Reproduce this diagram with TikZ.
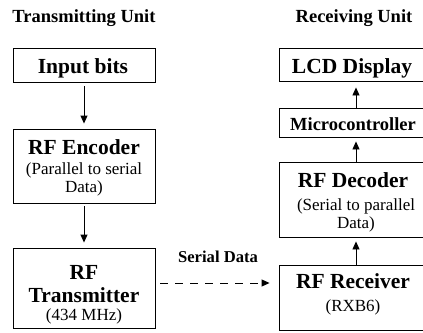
\documentclass[tikz,border=0pt]{standalone}
\usepackage{fontspec}
\setmainfont{Liberation Serif}
\usetikzlibrary{arrows.meta}

\tikzset{
  blockbox/.style={draw, line width=0.9pt, inner sep=0pt},
  headtxt/.style={anchor=base, inner sep=0pt, font=\fontsize{21.5pt}{24pt}\selectfont\bfseries},
  subtxt/.style={anchor=base, inner sep=0pt, font=\fontsize{17pt}{20pt}\selectfont},
  unittxt/.style={anchor=base, inner sep=0pt, font=\fontsize{18.5pt}{22pt}\selectfont\bfseries},
  flow/.style={line width=0.9pt, -{Triangle[length=8pt,width=7pt]}},
}

\begin{document}
\begin{tikzpicture}[x=1pt,y=-1pt]
\useasboundingbox (0,0) rectangle (423,332);

% column headings
\node[unittxt] (tunit) at (84,23) {Transmitting Unit};
\node[unittxt] (runit) at (354,23) {Receiving Unit};

% transmitting side
\node[blockbox, minimum width=142pt, minimum height=34pt] (inp) at (84,65) {};
\node[headtxt] (inpA) at (83,73) {Input bits};

\node[blockbox, minimum width=142pt, minimum height=74pt] (enc) at (84,166) {};
\node[headtxt] (encA) at (84,154) {RF Encoder};
\node[subtxt] (encB) at (84,174) {(Parallel to serial};
\node[subtxt] (encC) at (84,192) {Data)};

\node[blockbox, minimum width=142pt, minimum height=80pt] (tx) at (84,288) {};
\node[headtxt] (txA) at (84,279) {RF};
\node[headtxt] (txB) at (84,302) {Transmitter};
\node[subtxt] (txC) at (84,320) {(434 MHz)};

% receiving side
\node[blockbox, minimum width=144pt, minimum height=33pt] (lcd) at (351,64.5) {};
\node[headtxt] (lcdA) at (352,73) {LCD Display};

\node[blockbox, minimum width=144pt, minimum height=29pt] (mcu) at (351,122.5) {};
\node[unittxt] (mcuA) at (353,130) {Microcontroller};

\node[blockbox, minimum width=144pt, minimum height=75pt] (dec) at (351,199.5) {};
\node[headtxt] (decA) at (353,187) {RF Decoder};
\node[subtxt] (decB) at (356,210) {(Serial to parallel};
\node[subtxt] (decC) at (356,228) {Data)};

\node[blockbox, minimum width=144pt, minimum height=65pt] (rx) at (351,297.5) {};
\node[headtxt] (rxA) at (353,288) {RF Receiver};
\node[subtxt] (rxB) at (353,311) {(RXB6)};

% link label
\node[unittxt, font=\fontsize{16.6pt}{20pt}\selectfont\bfseries] (link) at (218,262) {Serial Data};

% connectors
\draw[flow, shorten <=4pt, shorten >=5pt] (inp) -- (enc);
\draw[flow, shorten <=3pt, shorten >=5pt] (enc) -- (tx);
\draw[flow, shorten >=4pt] ([xshift=5pt]rx.north) -- ([xshift=5pt]dec.south);
\draw[flow, shorten >=4pt] ([xshift=5pt]dec.north) -- ([xshift=5pt]mcu.south);
\draw[flow, shorten >=6pt] ([xshift=5pt]mcu.north) -- ([xshift=5pt]lcd.south);
\draw[flow, dash pattern=on 8pt off 7pt, shorten <=5pt, shorten >=9pt]
  ([yshift=5pt]tx.east) -- ([yshift=5pt]tx.east -| rx.west);
\end{tikzpicture}
\end{document}
